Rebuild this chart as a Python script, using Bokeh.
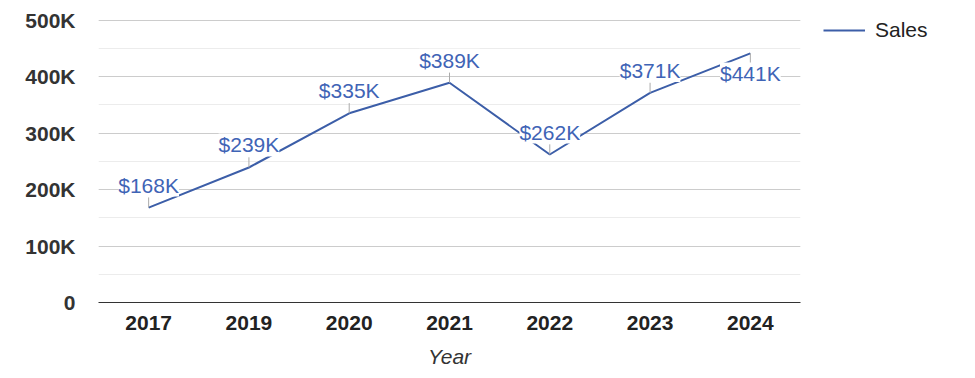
from bokeh.plotting import figure
from bokeh.models import (ColumnDataSource, LabelSet, Legend, LegendItem, Range1d,
                          SingleIntervalTicker, CustomJSTickFormatter, FactorRange)
from bokeh.core.properties import value
from bokeh.embed import file_html
from bokeh.resources import INLINE

years = ["2017", "2019", "2020", "2021", "2022", "2023", "2024"]
sales = [168000, 239000, 335000, 389000, 262000, 371000, 441000]
sales_labels = ["$168K", "$239K", "$335K", "$389K", "$262K", "$371K", "$441K"]
series_name = "Sales"
x_title = "Year"

FONT = "Liberation Sans"
LINE_COLOR = "#3c5ea8"
LABEL_COLOR = "#3f64b6"

n = len(years)
below = [i == n - 1 for i in range(n)]
lead = 18000
src = ColumnDataSource(dict(
    x=years, y=sales, text=sales_labels,
    y1=[v - lead if b else v + lead for v, b in zip(sales, below)],
    yoff=[-28 if b else 15 for b in below],
))

p = figure(x_range=FactorRange(factors=years, range_padding=0), y_range=Range1d(0, 501000),
           frame_width=702, frame_height=283, output_backend="svg", toolbar_location=None,
           min_border_left=98, min_border_right=150, min_border_top=19, min_border_bottom=68)
p.outline_line_color = None
p.background_fill_color = "white"

r = p.line("x", "y", source=src, line_color=LINE_COLOR, line_width=2)
p.segment(x0="x", y0="y", x1="x", y1="y1", source=src, line_color="#aaaaaa", line_width=1)

labels = LabelSet(x="x", y="y", text="text", source=src, y_offset="yoff",
                  text_align="center", text_baseline="alphabetic",
                  text_font=value(FONT), text_font_size=value("21px"), text_color=LABEL_COLOR,
                  background_fill_color="white", background_fill_alpha=1.0)
p.add_layout(labels)

# axes
p.yaxis.ticker = SingleIntervalTicker(interval=100000, num_minor_ticks=2)
p.yaxis.formatter = CustomJSTickFormatter(code="return tick == 0 ? '0' : (tick/1000).toFixed(0) + 'K';")
p.yaxis.axis_line_color = None
p.yaxis.major_tick_line_color = None
p.yaxis.minor_tick_line_color = None
p.yaxis.major_label_text_font = FONT
p.yaxis.major_label_text_font_size = "21px"
p.yaxis.major_label_text_font_style = "bold"
p.yaxis.major_label_text_color = "#333333"
p.yaxis.major_label_standoff = 17

p.xaxis.axis_line_color = "#333333"
p.xaxis.axis_line_width = 1
p.xaxis.major_tick_line_color = None
p.xaxis.minor_tick_line_color = None
p.xaxis.major_label_text_font = FONT
p.xaxis.major_label_text_font_size = "21px"
p.xaxis.major_label_text_font_style = "bold"
p.xaxis.major_label_text_color = "#222222"
p.xaxis.major_label_standoff = 7
p.xaxis.axis_label = x_title
p.xaxis.axis_label_text_font = FONT
p.xaxis.axis_label_text_font_size = "21px"
p.xaxis.axis_label_text_font_style = "italic"
p.xaxis.axis_label_text_color = "#333333"
p.xaxis.axis_label_standoff = 12

p.xgrid.grid_line_color = None
p.ygrid.grid_line_color = "#cccccc"
p.ygrid.minor_grid_line_color = "#ececec"

legend = Legend(items=[LegendItem(label=series_name, renderers=[r])],
                location=(23, 260), border_line_color=None, background_fill_alpha=0,
                glyph_width=42, label_standoff=10, label_text_font=FONT, label_text_font_size="21px",
                label_text_color="#222222", margin=0, padding=0, spacing=0)
p.add_layout(legend, "right")

open("out.html", "w").write(file_html(p, INLINE))
